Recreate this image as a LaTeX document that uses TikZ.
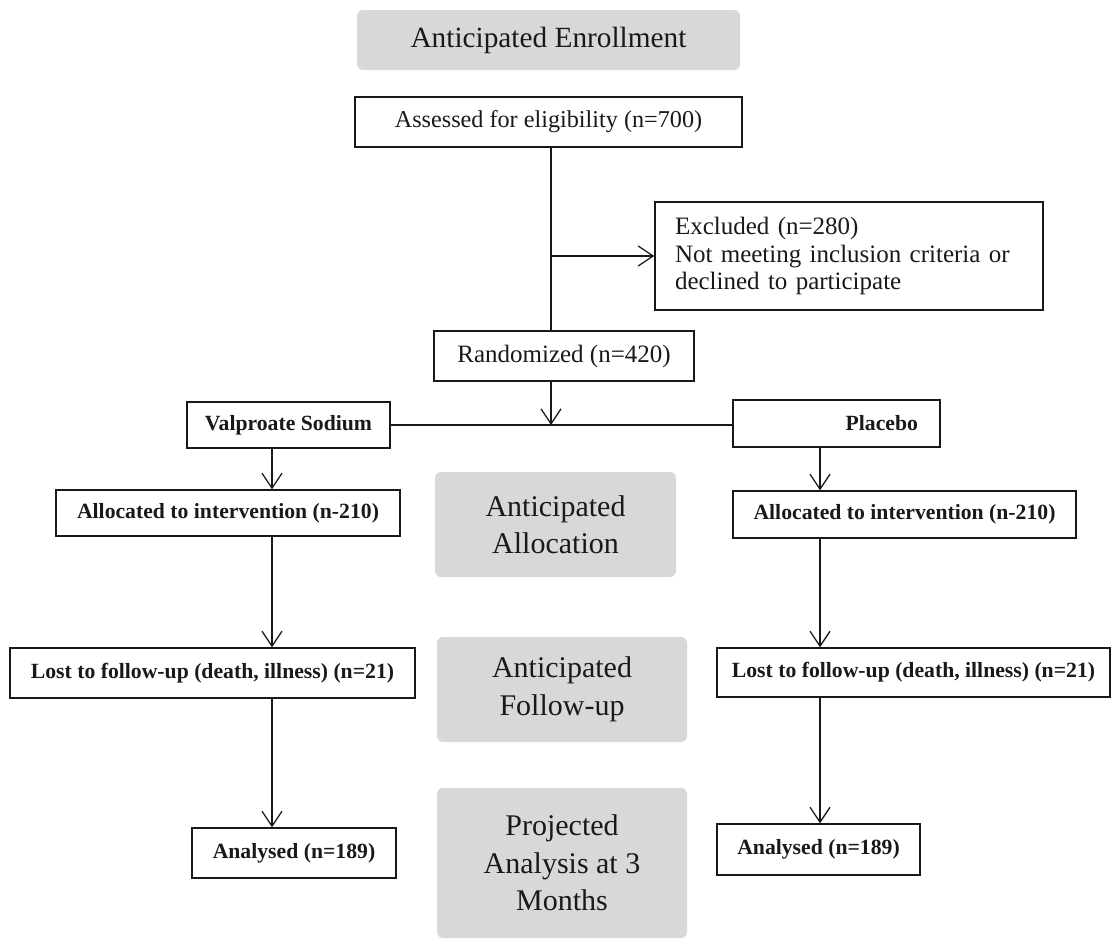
\documentclass[tikz,border=0pt]{standalone}
\usepackage{fontspec}
\setmainfont{Liberation Serif}
\usetikzlibrary{arrows.meta}
\definecolor{greyfill}{RGB}{216,216,216}
\definecolor{inkc}{RGB}{25,25,25}
\begin{document}
\begin{tikzpicture}[x=1pt,y=-1pt,
  box/.style={draw=inkc,line width=1.3pt,inner sep=0pt,text=inkc,align=center},
  bbox/.style={box,font=\bfseries\fontsize{21.7}{25}\selectfont},
  greybox/.style={fill=greyfill,rounded corners=6pt,inner sep=0pt,text=inkc,align=center,font=\fontsize{30}{37.5}\selectfont},
  conn/.style={draw=inkc,line width=1.3pt},
  arr/.style={conn,-{Straight Barb[length=15pt,width=20pt,line width=1.3pt]}}]
\useasboundingbox (0,0) rectangle (1111,938);
\fill[white] (0,0) rectangle (1111,938);
% grey phase labels
\node[greybox,minimum width=383,minimum height=60,font=\fontsize{29.3}{34}\selectfont] (genr) at (548.5,40) {Anticipated Enrollment};
\node[greybox,minimum width=241,minimum height=105] (galloc) at (555.5,524.5) {Anticipated\\Allocation};
\node[greybox,minimum width=250,minimum height=105] (gfollow) at (562,689.5) {Anticipated\\Follow-up};
\node[greybox,minimum width=250,minimum height=150] (gana) at (562,863) {Projected\\Analysis at 3\\Months};
% boxes
\node[box,minimum width=387,minimum height=50,font=\fontsize{24.2}{28}\selectfont] (assess) at (548.5,122) {Assessed for eligibility (n=700)};
\node[box,text width=348,inner xsep=20pt,minimum height=108,align=left,font=\fontsize{25}{27.5}\selectfont] (excl) at (849,256) {Excluded (n=280)\\Not meeting inclusion criteria or\\declined to participate};
\node[box,minimum width=260,minimum height=50,font=\fontsize{25}{28}\selectfont] (rand) at (564,356) {Randomized (n=420)};
\node[bbox,minimum width=203,minimum height=46] (valp) at (288.5,425) {Valproate Sodium};
\node[bbox,text width=163,inner xsep=22pt,minimum height=47,align=right] (plac) at (836.5,423.5) {Placebo};
\node[bbox,minimum width=344,minimum height=46] (allocL) at (228,513) {Allocated to intervention (n-210)};
\node[bbox,minimum width=343,minimum height=47] (allocR) at (904.5,514.5) {Allocated to intervention (n-210)};
\node[bbox,minimum width=405,minimum height=50] (lostL) at (212.5,673) {Lost to follow-up (death, illness) (n=21)};
\node[bbox,minimum width=393,minimum height=49] (lostR) at (913.5,672.5) {Lost to follow-up (death, illness) (n=21)};
\node[bbox,minimum width=204,minimum height=50] (anaL) at (294,853) {Analysed (n=189)};
\node[bbox,minimum width=203,minimum height=51] (anaR) at (818.5,849.5) {Analysed (n=189)};
% guide coordinates
\coordinate (spine) at (551,0);
\coordinate (colL) at (272,0);
\coordinate (colR) at (820,0);
% connectors
\draw[conn] (spine |- assess.south) -- (spine |- rand.north);
\draw[arr] (spine |- excl.west) -- (excl.west);
\draw[arr] (spine |- rand.south) -- (spine |- valp.east);
\draw[conn] (valp.east) -- (plac.west |- valp.east);
\draw[arr] (colL |- valp.south) -- (colL |- allocL.north);
\draw[arr] (colL |- allocL.south) -- (colL |- lostL.north);
\draw[arr] (colL |- lostL.south) -- (colL |- anaL.north);
\draw[arr] (colR |- plac.south) -- (colR |- allocR.north);
\draw[arr] (colR |- allocR.south) -- (colR |- lostR.north);
\draw[arr] (colR |- lostR.south) -- (colR |- anaR.north);
\end{tikzpicture}
\end{document}
